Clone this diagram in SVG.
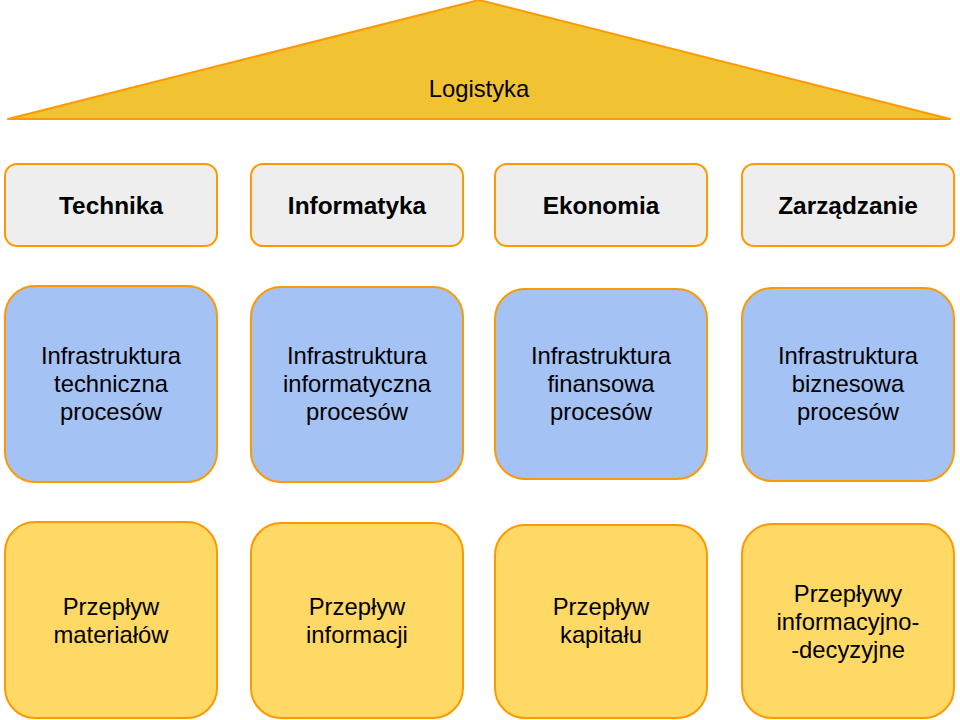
<svg xmlns="http://www.w3.org/2000/svg" width="960" height="720" viewBox="0 0 960 720">
<style>
text{font-family:"Liberation Sans",Arial,sans-serif;font-size:23.8px;fill:#000;text-anchor:middle}
.h{font-weight:bold;font-size:24.4px}
.s{stroke:#FF9900;stroke-width:2}
.g{fill:#EEEEEE}
.b{fill:#A4C2F4}
.y{fill:#FFD966}
</style>
<rect width="960" height="720" fill="#fff"/>
<g id="logistyka">
<polygon class="s" points="479,0 950,119 8,119" fill="#F1C232" stroke-linejoin="round"/>
<text x="479" y="97">Logistyka</text>
</g>
<g id="connectors"></g>
<g id="technika"><rect class="s g" x="5" y="164" width="212" height="82" rx="12"/><text class="h" x="111" y="214">Technika</text></g>
<g id="informatyka"><rect class="s g" x="251" y="164" width="212" height="82" rx="12"/><text class="h" x="357" y="214">Informatyka</text></g>
<g id="ekonomia"><rect class="s g" x="495" y="164" width="212" height="82" rx="12"/><text class="h" x="601" y="214">Ekonomia</text></g>
<g id="zarzadzanie"><rect class="s g" x="742" y="164" width="212" height="82" rx="12"/><text class="h" x="848" y="214">Zarządzanie</text></g>

<g id="infra-tech"><rect class="s b" x="5" y="286" width="212" height="196" rx="30"/><text x="111" y="364">Infrastruktura</text><text x="111" y="392">techniczna</text><text x="111" y="420">procesów</text></g>
<g id="infra-inf"><rect class="s b" x="251" y="287" width="212" height="195" rx="30"/><text x="357" y="364">Infrastruktura</text><text x="357" y="392">informatyczna</text><text x="357" y="420">procesów</text></g>
<g id="infra-fin"><rect class="s b" x="495" y="289" width="212" height="190" rx="30"/><text x="601" y="364">Infrastruktura</text><text x="601" y="392">finansowa</text><text x="601" y="420">procesów</text></g>
<g id="infra-biz"><rect class="s b" x="742" y="288" width="212" height="193" rx="30"/><text x="848" y="364">Infrastruktura</text><text x="848" y="392">biznesowa</text><text x="848" y="420">procesów</text></g>

<g id="przeplyw-mat"><rect class="s y" x="5" y="522" width="212" height="196" rx="30"/><text x="111" y="615">Przepływ</text><text x="111" y="643">materiałów</text></g>
<g id="przeplyw-inf"><rect class="s y" x="251" y="523" width="212" height="195" rx="30"/><text x="357" y="615">Przepływ</text><text x="357" y="643">informacji</text></g>
<g id="przeplyw-kap"><rect class="s y" x="495" y="525" width="212" height="193" rx="30"/><text x="601" y="615">Przepływ</text><text x="601" y="643">kapitału</text></g>
<g id="przeplywy-dec"><rect class="s y" x="742" y="524" width="212" height="194" rx="30"/><text x="848" y="602">Przepływy</text><text x="848" y="630">informacyjno-</text><text x="848" y="658">-decyzyjne</text></g>
</svg>
